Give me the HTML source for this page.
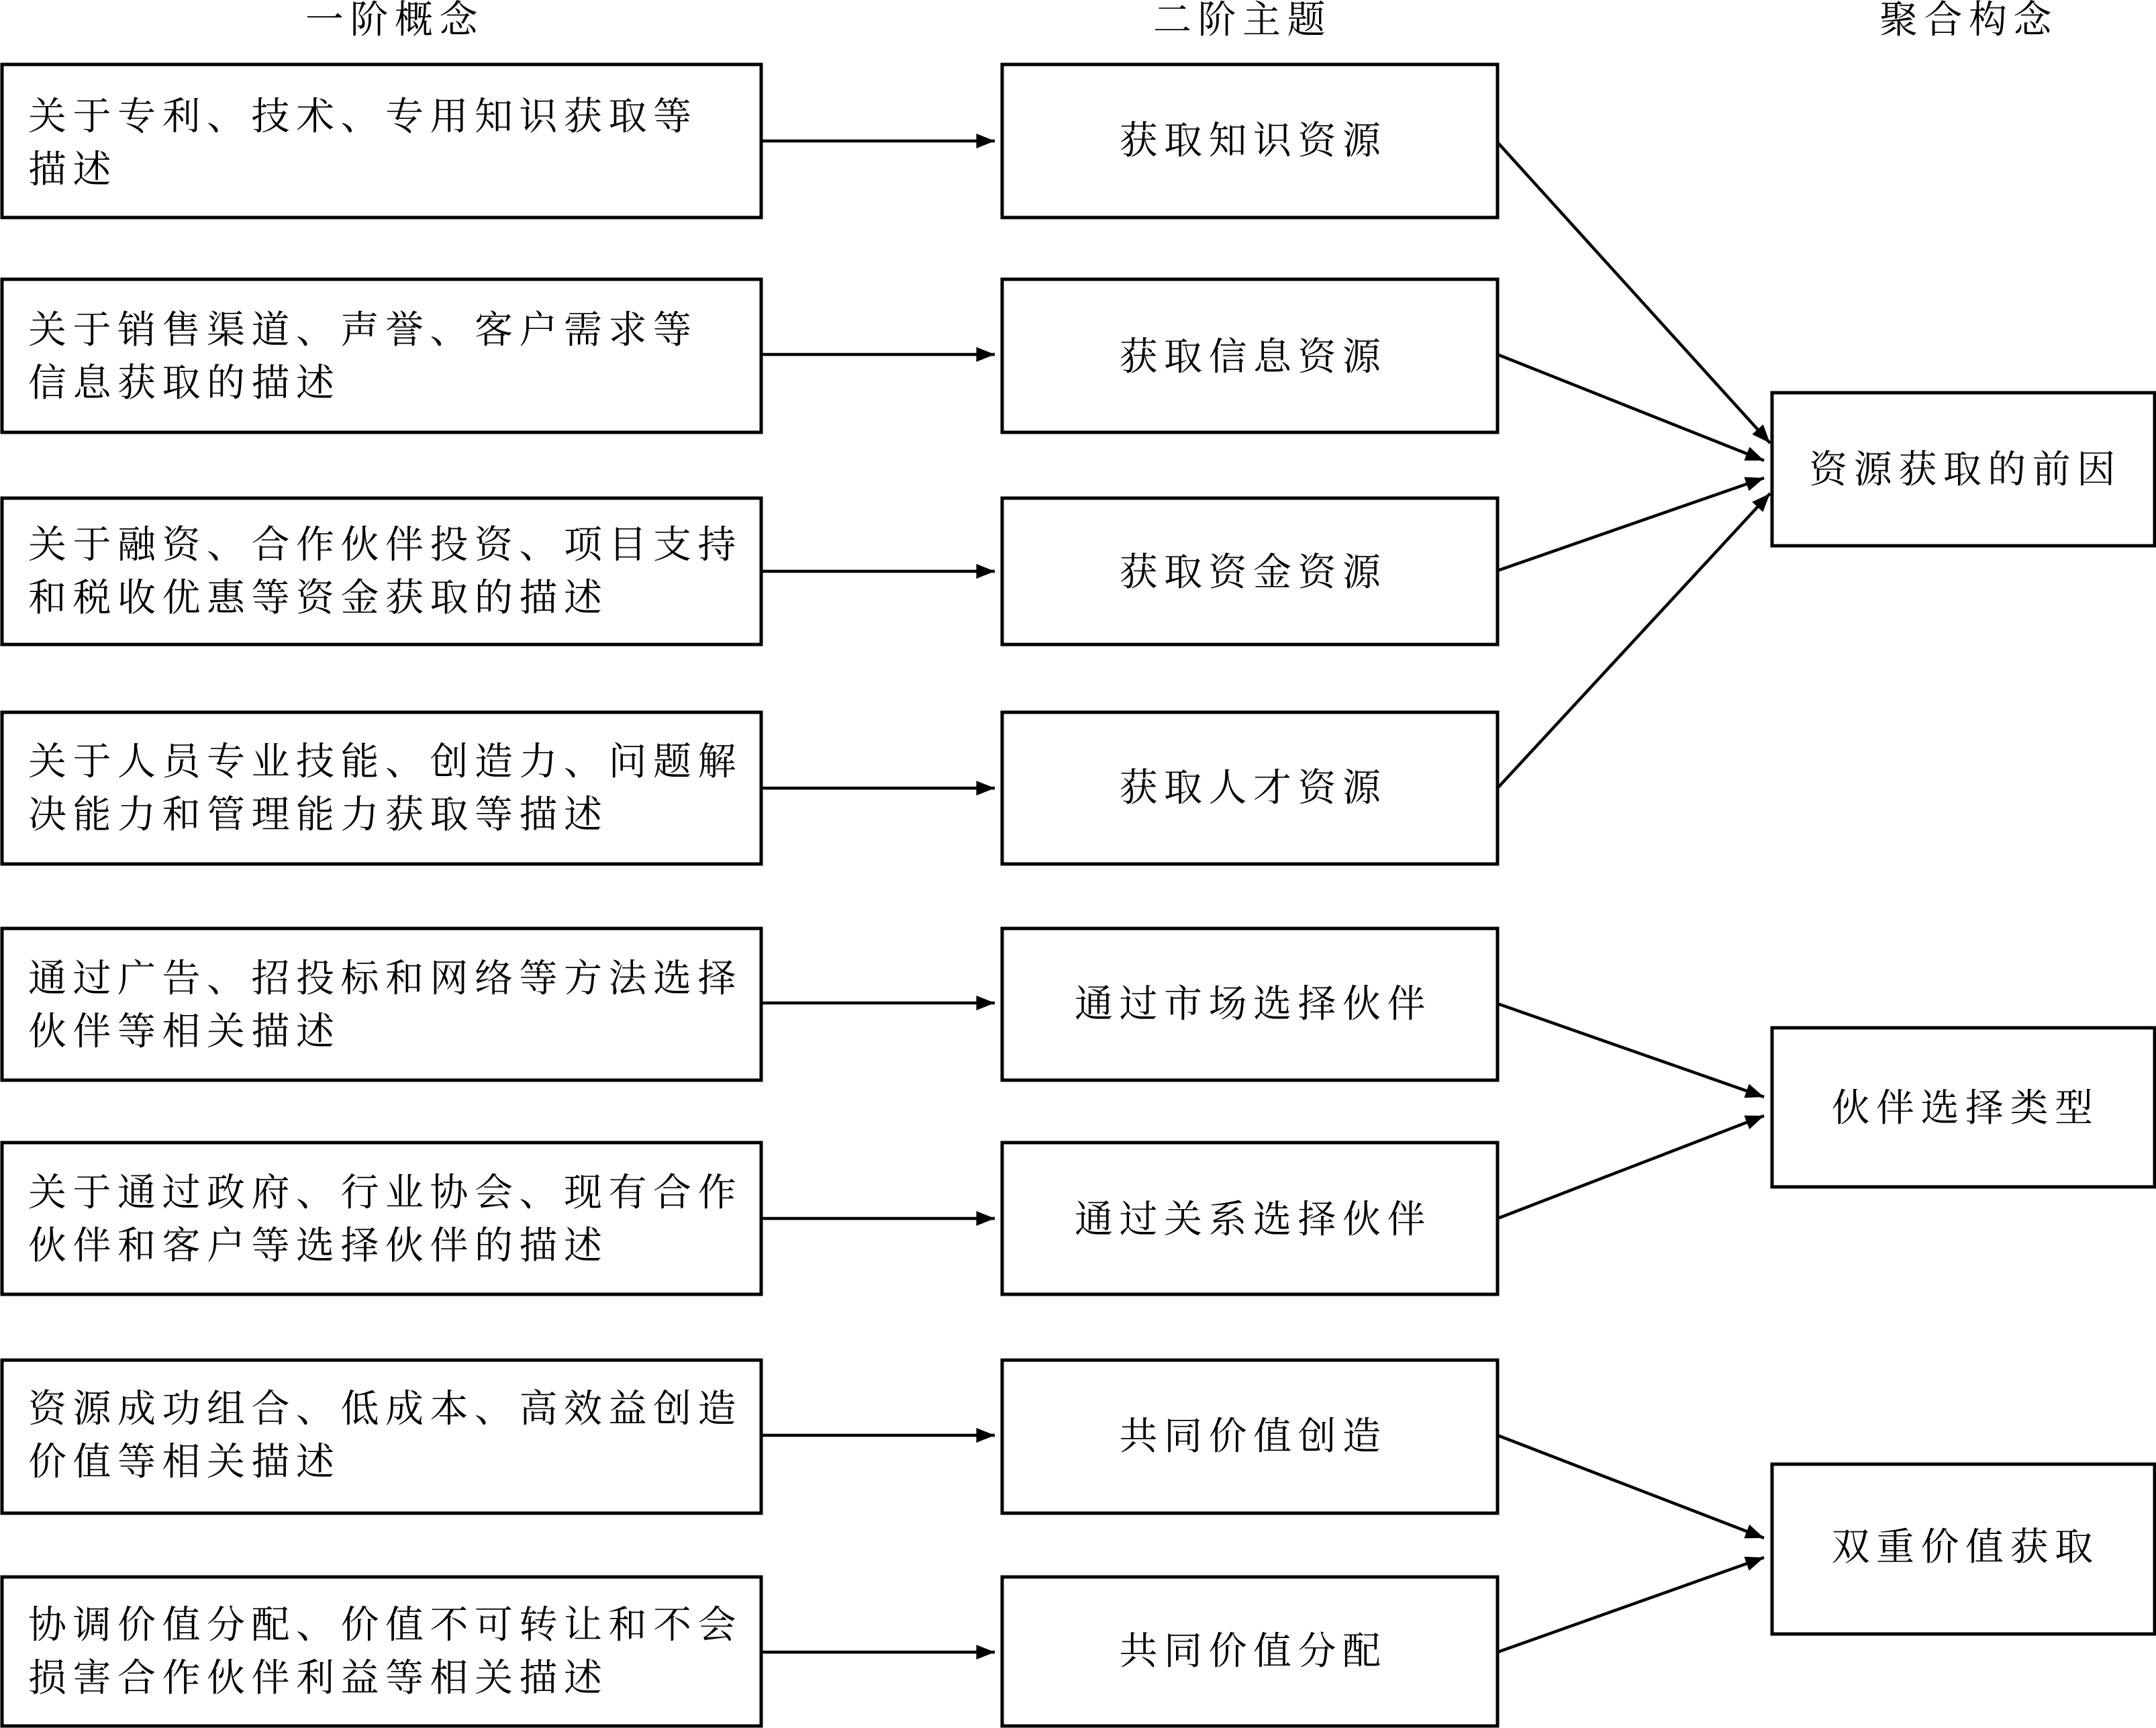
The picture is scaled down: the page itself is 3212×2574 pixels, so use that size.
<!DOCTYPE html>
<html><head><meta charset="utf-8"><style>
html,body{margin:0;padding:0;background:#fff}
svg{display:block}
text{font-family:"Liberation Serif","Noto Serif CJK SC",serif;font-size:57px;fill:#000;letter-spacing:9.5px}
</style></head><body>
<svg width="3212" height="2574" viewBox="0 0 3212 2574" xmlns="http://www.w3.org/2000/svg">
<defs>
<marker id="b" viewBox="0 0 10 8" refX="10" refY="4" markerWidth="30" markerHeight="22" orient="auto" markerUnits="userSpaceOnUse"><path d="M0,0 L10,4 L0,8 z" fill="#000"/></marker></defs>
<g text-anchor="middle" dominant-baseline="central">
<text x="588" y="30">一阶概念</text>
<text x="1851" y="30">二阶主题</text>
<text x="2933" y="30">聚合构念</text>
</g>
<g fill="none" stroke="#000" stroke-width="5">
<rect x="3" y="96" width="1131" height="228"/>
<rect x="3" y="416" width="1131" height="228"/>
<rect x="3" y="742" width="1131" height="218"/>
<rect x="3" y="1061" width="1131" height="226"/>
<rect x="3" y="1383" width="1131" height="226"/>
<rect x="3" y="1702" width="1131" height="226"/>
<rect x="3" y="2026" width="1131" height="228"/>
<rect x="3" y="2349" width="1131" height="222"/>
<rect x="1493" y="96" width="738" height="228"/>
<rect x="1493" y="416" width="738" height="228"/>
<rect x="1493" y="742" width="738" height="218"/>
<rect x="1493" y="1061" width="738" height="226"/>
<rect x="1493" y="1383" width="738" height="226"/>
<rect x="1493" y="1702" width="738" height="226"/>
<rect x="1493" y="2026" width="738" height="228"/>
<rect x="1493" y="2349" width="738" height="222"/>
<rect x="2640" y="585" width="570" height="228"/>
<rect x="2640" y="1531" width="570" height="237"/>
<rect x="2640" y="2181" width="570" height="253"/>
</g>
<g stroke="#000" stroke-width="4.5" marker-end="url(#b)">
<line x1="1134" y1="210" x2="1482" y2="210"/>
<line x1="1134" y1="528" x2="1482" y2="528"/>
<line x1="1134" y1="851" x2="1482" y2="851"/>
<line x1="1134" y1="1174" x2="1482" y2="1174"/>
<line x1="1134" y1="1494" x2="1482" y2="1494"/>
<line x1="1134" y1="1815" x2="1482" y2="1815"/>
<line x1="1134" y1="2138" x2="1482" y2="2138"/>
<line x1="1134" y1="2461" x2="1482" y2="2461"/>
<line x1="2231" y1="212" x2="2637" y2="660"/>
<line x1="2231" y1="528" x2="2628" y2="686"/>
<line x1="2231" y1="850" x2="2628" y2="712"/>
<line x1="2231" y1="1174" x2="2637" y2="735"/>
<line x1="2231" y1="1495" x2="2628" y2="1634"/>
<line x1="2231" y1="1815" x2="2628" y2="1662"/>
<line x1="2231" y1="2138" x2="2628" y2="2291"/>
<line x1="2231" y1="2461" x2="2628" y2="2320"/>
</g>
<g dominant-baseline="central">
<text x="42" y="174">关于专利、技术、专用知识获取等</text>
<text x="42" y="253">描述</text>
<text x="42" y="492">关于销售渠道、声誉、客户需求等</text>
<text x="42" y="571">信息获取的描述</text>
<text x="42" y="812">关于融资、合作伙伴投资、项目支持</text>
<text x="42" y="891">和税收优惠等资金获取的描述</text>
<text x="42" y="1135">关于人员专业技能、创造力、问题解</text>
<text x="42" y="1214">决能力和管理能力获取等描述</text>
<text x="42" y="1458">通过广告、招投标和网络等方法选择</text>
<text x="42" y="1537">伙伴等相关描述</text>
<text x="42" y="1777">关于通过政府、行业协会、现有合作</text>
<text x="42" y="1856">伙伴和客户等选择伙伴的描述</text>
<text x="42" y="2099">资源成功组合、低成本、高效益创造</text>
<text x="42" y="2178">价值等相关描述</text>
<text x="42" y="2421">协调价值分配、价值不可转让和不会</text>
<text x="42" y="2500">损害合作伙伴利益等相关描述</text>
</g>
<g text-anchor="middle" dominant-baseline="central">
<text x="1867" y="210">获取知识资源</text>
<text x="1867" y="532">获取信息资源</text>
<text x="1867" y="853">获取资金资源</text>
<text x="1867" y="1174">获取人才资源</text>
<text x="1867" y="1496">通过市场选择伙伴</text>
<text x="1867" y="1817">通过关系选择伙伴</text>
<text x="1867" y="2140">共同价值创造</text>
<text x="1867" y="2460">共同价值分配</text>
<text x="2928" y="700">资源获取的前因</text>
<text x="2928" y="1651">伙伴选择类型</text>
<text x="2928" y="2305">双重价值获取</text>
</g>
</svg>
</body></html>
